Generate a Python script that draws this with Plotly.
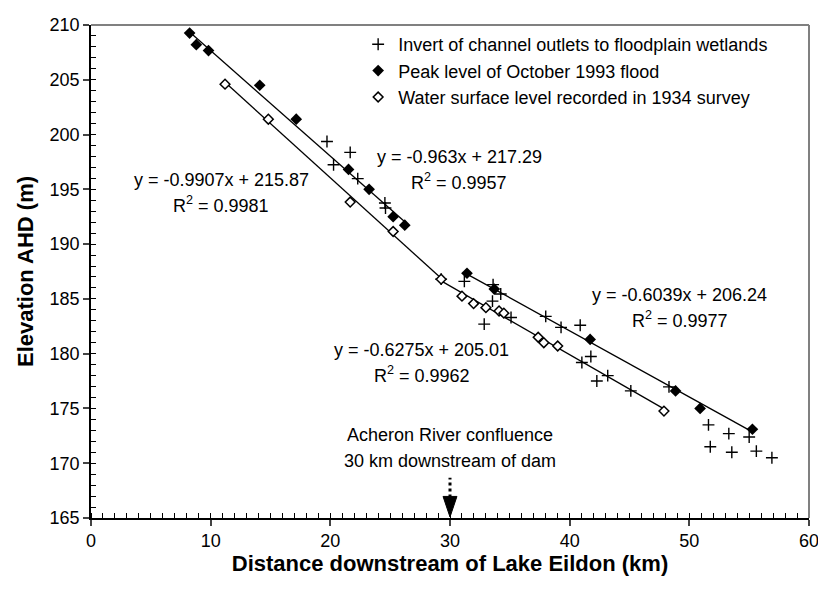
import plotly.graph_objects as go

# ---------------- data ----------------
invert_x = [19.72, 20.27, 21.66, 22.29, 24.56, 24.61, 29.26, 31.2, 32.86, 33.55, 33.6, 34.24,
            35.1, 38.0, 39.28, 40.88, 41.02, 41.77, 42.27, 43.18, 45.11, 48.3, 51.6, 51.75,
            53.3, 53.55, 55.0, 55.6, 56.9]
invert_y = [199.36, 197.24, 198.37, 195.98, 193.75, 193.3, 186.8, 186.6, 182.7, 184.8, 186.3, 185.45,
            183.3, 183.4, 182.4, 182.6, 179.2, 179.74, 177.5, 178.0, 176.6, 176.97, 173.5, 171.5,
            172.7, 171.0, 172.4, 171.1, 170.5]

peak_x = [8.24, 8.8, 9.82, 14.1, 17.15, 21.52, 23.24, 25.25, 26.22,
          31.42, 33.7, 41.71, 48.85, 50.9, 55.27]
peak_y = [209.26, 208.2, 207.67, 204.5, 201.4, 196.82, 195.0, 192.5, 191.73,
          187.34, 185.9, 181.3, 176.6, 175.0, 173.1]

survey_x = [11.2, 14.82, 21.66, 25.25, 29.26,
            31.0, 31.97, 33.0, 34.1, 34.5, 37.37, 37.84, 39.0, 47.88]
survey_y = [204.6, 201.4, 193.84, 191.15, 186.8,
            185.25, 184.57, 184.2, 183.9, 183.7, 181.5, 181.0, 180.7, 174.76]

# fitted trendlines (slope, intercept, R^2) as printed on the chart
peak_upper_fit = (-0.963, 217.29, 0.9957)
peak_lower_fit = (-0.6039, 206.24, 0.9977)
survey_upper_fit = (-0.9907, 215.87, 0.9981)
survey_lower_fit = (-0.6275, 205.01, 0.9962)

peak_split = 9        # first index of the lower reach
survey_split = 4      # shared junction point index

confluence_km = 30
confluence_text = ["Acheron River confluence", "30 km downstream of dam"]

x_ticks = [0, 10, 20, 30, 40, 50, 60]
y_ticks = [165, 170, 175, 180, 185, 190, 195, 200, 205, 210]

series_names = ["Invert of channel outlets to floodplain wetlands",
                "Peak level of October 1993 flood",
                "Water surface level recorded in 1934 survey"]

# ---------------- layout helpers ----------------
PAGE_W, PAGE_H = 826, 590
OFF = 8                      # default page margin of the html body
W, H = PAGE_W - OFF, PAGE_H - OFF
# plot area in page pixel coordinates
L, R, T, B = 91, 814, 15, 518
FONT = "Liberation Sans, Arial, sans-serif"


def px(x):
    return (x - L) / (R - L)


def py(y):
    return (B - y) / (B - T)


fig = go.Figure()


def add_fit(xs, fit):
    s, b, _ = fit
    x0, x1 = min(xs), max(xs)
    fig.add_trace(go.Scatter(x=[x0, x1], y=[s * x0 + b, s * x1 + b], mode="lines",
                             line=dict(color="black", width=1.3), showlegend=False,
                             hoverinfo="skip"))


add_fit(peak_x[:peak_split], peak_upper_fit)
add_fit(peak_x[peak_split:], peak_lower_fit)
add_fit(survey_x[:survey_split + 1], survey_upper_fit)
add_fit(survey_x[survey_split:], survey_lower_fit)

fig.add_trace(go.Scatter(x=invert_x, y=invert_y, mode="markers", name=series_names[0],
                         marker=dict(symbol="cross-thin", size=8.5, color="black",
                                     line=dict(color="black", width=1.4))))
fig.add_trace(go.Scatter(x=peak_x, y=peak_y, mode="markers", name=series_names[1],
                         marker=dict(symbol="diamond", size=9, color="black",
                                     line=dict(color="black", width=0))))
fig.add_trace(go.Scatter(x=survey_x, y=survey_y, mode="markers", name=series_names[2],
                         marker=dict(symbol="diamond", size=7.5, color="white",
                                     line=dict(color="black", width=1.5))))

# confluence arrow
cx_px = L + (R - L) * confluence_km / 60
fig.add_shape(type="line", xref="x", yref="paper", x0=confluence_km, x1=confluence_km,
              y0=py(497), y1=py(477), line=dict(color="black", width=3, dash="3px,3px"))
fig.add_shape(type="path", xref="paper", yref="paper",
              path=f"M {px(cx_px - 7)} {py(496)} L {px(cx_px + 7)} {py(496)} "
                   f"L {px(cx_px)} {py(517)} Z",
              fillcolor="black", line=dict(color="black", width=1))

annos = []
ann_font = dict(family=FONT, size=18, color="black")


def eq_text(fit):
    return f"y = {fit[0]}x + {fit[1]}", f"R<sup>2</sup> = {fit[2]}"


for fit, cx, ey, ry in [(survey_upper_fit, 222, 173, 198),
                        (peak_upper_fit, 462, 150, 175),
                        (survey_lower_fit, 424, 347, 372),
                        (peak_lower_fit, 684, 290, 315)]:
    e, r = eq_text(fit)
    annos.append(dict(text=e, x=px(cx), y=py(ey), xref="paper", yref="paper",
                      showarrow=False, font=ann_font, xanchor="center", yanchor="middle"))
    annos.append(dict(text=r, x=px(cx), y=py(ry), xref="paper", yref="paper",
                      showarrow=False, font=ann_font, xanchor="center", yanchor="middle"))

for i, t in enumerate(confluence_text):
    annos.append(dict(text=t, x=confluence_km, y=py(433 + 27 * i), xref="x", yref="paper",
                      showarrow=False, font=ann_font, xanchor="center", yanchor="middle"))

# plot-area frame (top / right) in grey
fig.add_shape(type="line", xref="paper", yref="paper", x0=0, x1=1, y0=1, y1=1,
              line=dict(color="#808080", width=2))
fig.add_shape(type="line", xref="paper", yref="paper", x0=1, x1=1, y0=0, y1=1,
              line=dict(color="#808080", width=2))

fig.update_layout(
    width=W, height=H,
    margin=dict(l=L - OFF, r=PAGE_W - R, t=T - OFF, b=PAGE_H - B),
    paper_bgcolor="white", plot_bgcolor="white",
    font=dict(family=FONT, size=18, color="black"),
    annotations=annos,
    legend=dict(x=px(360), y=py(16), xanchor="left", yanchor="top",
                bgcolor="rgba(0,0,0,0)", font=dict(family=FONT, size=18),
                tracegroupgap=0, itemsizing="trace"),
    xaxis=dict(range=[0, 60], tickvals=x_ticks, ticks="outside", ticklen=6, tickwidth=1.5,
               showline=True, linecolor="black", linewidth=1.5, showgrid=False, zeroline=False,
               tickfont=dict(family=FONT, size=18), ticklabeloverflow="allow",
               minor=dict(dtick=1, ticks="inside", ticklen=5, tickwidth=1, tickcolor="black"),
               title=dict(text="<b>Distance downstream of Lake Eildon (km)</b>",
                          font=dict(family=FONT, size=22), standoff=3)),
    yaxis=dict(range=[165, 210], tickvals=y_ticks, ticks="outside", ticklen=6, tickwidth=1.5,
               showline=True, linecolor="black", linewidth=1.5, showgrid=False, zeroline=False,
               tickfont=dict(family=FONT, size=18), ticklabeloverflow="allow",
               minor=dict(dtick=1, ticks="inside", ticklen=5, tickwidth=1, tickcolor="black"),
               title=dict(text="<b>Elevation AHD (m)</b>",
                          font=dict(family=FONT, size=22), standoff=10)),
)

fig.write_html("out.html")
